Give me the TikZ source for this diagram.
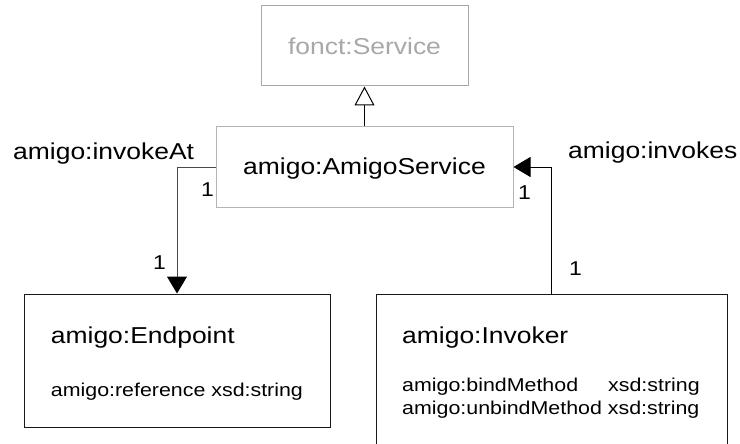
\documentclass[tikz,border=0pt]{standalone}
\usepackage{fontspec}
\setmainfont{Liberation Sans}[FakeStretch=1.15]
\usetikzlibrary{arrows.meta}
\definecolor{lightg}{HTML}{A8A8A8}
\definecolor{boxg}{HTML}{B4B4B4}
\definecolor{lineg}{HTML}{4A4A4A}
\tikzset{
  greybox/.style={draw=boxg, line width=1pt, rectangle, inner sep=0pt},
  blackbox/.style={draw=black!90, line width=1pt, rectangle, inner sep=0pt},
  txt/.style={inner sep=0pt, font=\fontsize{23}{27}\selectfont},
  small/.style={inner sep=0pt, font=\fontsize{18.6}{22}\selectfont},
  one/.style={inner sep=0pt, font=\fontsize{20}{24}\selectfont},
  conn/.style={line width=1pt, -{Triangle[length=17pt,width=20pt,color=black]}},
  gen/.style={line width=1pt, -{Triangle[open,length=19pt,width=20pt,line width=1pt]}}
}
\begin{document}
\begin{tikzpicture}[x=1pt,y=-1pt]
\clip (0,0) rectangle (740,444);
\fill[white] (0,0) rectangle (740,444);
% boxes
\node[greybox, draw=lightg, minimum width=207pt, minimum height=80pt] (fonct) at (364.5,46) {};
\node[greybox, minimum width=297pt, minimum height=80pt] (svc) at (364.5,167) {};
\node[blackbox, minimum width=306pt, minimum height=133pt] (ep) at (177,360.5) {};
\node[blackbox, minimum width=351pt, minimum height=176pt] (inv) at (551.5,382) {};
% texts
\node[txt, anchor=base, text=lightg] (fonctT) at (364.5,55) {fonct:Service};
\node[txt, anchor=base] (svcT) at (364.5,175) {amigo:AmigoService};
\node[txt, anchor=base west] (epT) at (50.7,343.3) {amigo:Endpoint};
\node[small, anchor=base west] (epA) at (50.7,396.7) {amigo:reference xsd:string};
\node[txt, anchor=base west] (invT) at (402,343.3) {amigo:Invoker};
\node[small, anchor=base west] (invA1) at (402,391.7) {amigo:bindMethod};
\node[small, anchor=base west] (invA1t) at (608,391.7) {xsd:string};
\node[small, anchor=base west] (invA2) at (402,414) {amigo:unbindMethod xsd:string};
% labels
\node[txt, anchor=base west] (lblAt) at (13,159) {amigo:invokeAt};
\node[txt, anchor=base west] (lblInv) at (568,158.3) {amigo:invokes};
\node[one, anchor=base west] (m1) at (201,196) {1};
\node[one, anchor=base west] (m2) at (153,269.3) {1};
\node[one, anchor=base west] (m3) at (518,199) {1};
\node[one, anchor=base west] (m4) at (569,275) {1};
% connectors
\draw[gen] (svc.north) -- (fonct.south);
\draw[conn, draw=lineg] (svc.west) -| (ep.north);
\draw[conn, draw=black] (inv.north) |- (svc.east);
\end{tikzpicture}
\end{document}
